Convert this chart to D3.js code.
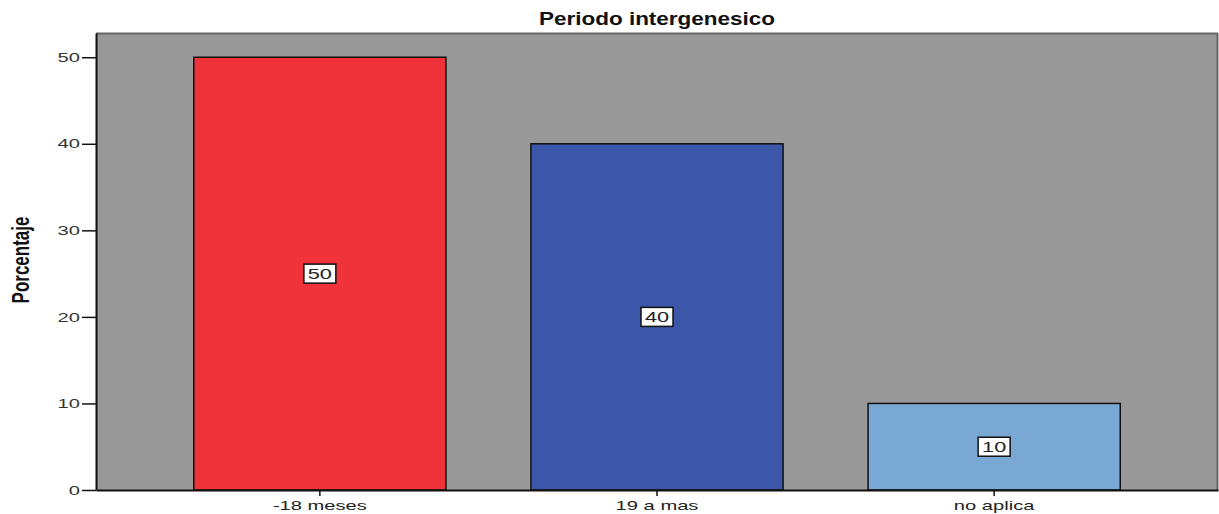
<!DOCTYPE html>
<html>
<head>
<meta charset="utf-8">
<script src="https://cdn.jsdelivr.net/npm/d3@7"></script>
<style>
  body { margin: 0; background: #fff; }
  text { font-family: "Liberation Sans", Arial, sans-serif; }
</style>
</head>
<body>
<svg id="chart" width="1219" height="514"></svg>
<script>
  const categories = ['-18 meses', '19 a mas', 'no aplica'];
  const values = [50, 40, 10];
  const colors = ['#f0323a', '#3c57a9', '#7aa8d5'];
  const yTicks = [0, 10, 20, 30, 40, 50];

  const svg = d3.select('#chart');
  const margin = { top: 33, right: 1, bottom: 24, left: 96 };
  const width = 1219 - margin.left - margin.right;
  const height = 514 - margin.top - margin.bottom;
  const sx = 1.55; // horizontal stretch of the text in the original

  const x = d3.scaleBand()
    .domain(categories)
    .range([0, width])
    .paddingInner(0.252)
    .paddingOuter(0.29);

  const y = d3.scaleLinear()
    .domain([0, 52.8])
    .range([height, 0]);

  const g = svg.append('g')
    .attr('transform', `translate(${margin.left},${margin.top})`);

  // plot background
  g.append('rect')
    .attr('width', width)
    .attr('height', height)
    .attr('fill', '#999999');
  g.append('line')
    .attr('x1', 0).attr('x2', width).attr('y1', 0.5).attr('y2', 0.5)
    .attr('stroke', '#666').attr('stroke-width', 2);
  g.append('line')
    .attr('x1', width - 0.5).attr('x2', width - 0.5).attr('y1', 0).attr('y2', height)
    .attr('stroke', '#666').attr('stroke-width', 2);

  // bars
  g.selectAll('.bar')
    .data(values)
    .enter()
    .append('rect')
    .attr('class', 'bar')
    .attr('x', (d, i) => x(categories[i]))
    .attr('y', d => y(d))
    .attr('width', x.bandwidth())
    .attr('height', d => height - y(d))
    .attr('fill', (d, i) => colors[i])
    .attr('stroke', '#111')
    .attr('stroke-width', 1.5);

  // value labels
  const lbl = g.selectAll('.lbl')
    .data(values)
    .enter()
    .append('g')
    .attr('class', 'lbl')
    .attr('transform', (d, i) => `translate(${x(categories[i]) + x.bandwidth() / 2},${y(d / 2)})`);
  lbl.append('rect')
    .attr('x', -16).attr('y', -9.5)
    .attr('width', 32).attr('height', 19)
    .attr('fill', '#fff')
    .attr('stroke', '#111')
    .attr('stroke-width', 1.5);
  lbl.append('text')
    .attr('transform', `scale(${sx},1)`)
    .attr('text-anchor', 'middle')
    .attr('dy', '0.37em')
    .attr('font-size', 14)
    .attr('fill', '#222')
    .text(d => d);

  // axes
  const yAxis = g.append('g')
    .call(d3.axisLeft(y).tickValues(yTicks).tickSize(14).tickSizeOuter(0));
  yAxis.select('.domain').attr('stroke', '#111').attr('stroke-width', 2);
  yAxis.selectAll('.tick line').attr('stroke', '#111').attr('stroke-width', 1.5);
  yAxis.selectAll('.tick text')
    .attr('x', -16 / sx)
    .attr('transform', `scale(${sx},1)`)
    .attr('font-size', 13)
    .attr('font-family', '"Liberation Sans", Arial, sans-serif')
    .attr('fill', '#333');

  const xAxis = g.append('g')
    .attr('transform', `translate(0,${height})`)
    .call(d3.axisBottom(x).tickSize(6).tickSizeOuter(0));
  xAxis.select('.domain').attr('stroke', '#111').attr('stroke-width', 2);
  xAxis.selectAll('.tick line').attr('stroke', '#111').attr('stroke-width', 1.5);
  xAxis.selectAll('.tick text')
    .attr('y', 11)
    .attr('transform', `scale(${sx},1)`)
    .attr('font-size', 13)
    .attr('font-family', '"Liberation Sans", Arial, sans-serif')
    .attr('fill', '#222');

  // title
  svg.append('text')
    .attr('transform', `translate(${margin.left + width / 2},25) scale(1.25,1)`)
    .attr('text-anchor', 'middle')
    .attr('font-size', 18)
    .attr('font-weight', 'bold')
    .attr('fill', '#111')
    .text('Periodo intergenesico');

  // y axis title
  svg.append('text')
    .attr('transform', 'translate(29,260) scale(1.4,1) rotate(-90)')
    .attr('text-anchor', 'middle')
    .attr('font-size', 17)
    .attr('font-weight', 'bold')
    .attr('fill', '#111')
    .text('Porcentaje');
</script>
</body>
</html>
